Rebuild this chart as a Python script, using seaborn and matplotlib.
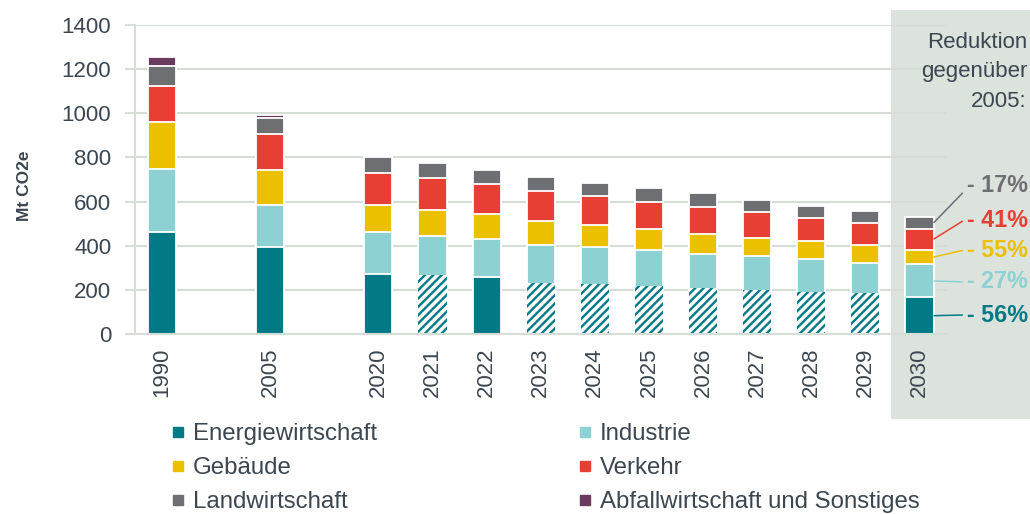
import matplotlib
matplotlib.use("Agg")
import matplotlib.pyplot as plt
import seaborn as sns
import pandas as pd
import numpy as np
from matplotlib.patches import Rectangle
from matplotlib.lines import Line2D

# ---------------- data ----------------
years = ["1990", "2005", "2020", "2021", "2022", "2023", "2024", "2025",
         "2026", "2027", "2028", "2029", "2030"]
energiewirtschaft = [463, 395, 271, 266, 257, 232, 226, 217, 208, 199, 190, 184, 166]
industrie = [286, 189, 191, 178, 172, 170, 168, 162, 153, 155, 149, 138, 149]
gebaeude = [213, 159, 124, 116, 113, 108, 98, 98, 90, 83, 81, 80, 67]
verkehr = [163, 162, 144, 146, 138, 139, 131, 122, 124, 115, 107, 101, 95]
landwirtschaft = [89, 75, 70, 69, 64, 61, 62, 63, 63, 53, 52, 52, 53]
abfall = [42, 10, 0, 0, 0, 0, 0, 0, 0, 0, 0, 0, 0]
hatched_years = ["2021", "2023", "2024", "2025", "2026", "2027", "2028", "2029"]
slot_order = ["1990", "gap1", "2005", "gap2", "2020", "2021", "2022", "2023",
              "2024", "2025", "2026", "2027", "2028", "2029", "2030"]
sector_names = ["Energiewirtschaft", "Industrie", "Gebäude", "Verkehr",
                "Landwirtschaft", "Abfallwirtschaft und Sonstiges"]
sector_colors = ["#017A86", "#8DD1D2", "#EAC000", "#E83F35", "#6E6F73", "#6B3A5F"]
reduction_labels = ["- 56%", "- 27%", "- 55%", "- 41%", "- 17%"]
panel_title = ["Reduktion", "gegenüber", "2005:"]

TXT = "#3B4650"
GRID = "#D6DDD6"
PANEL = "#DCE2DC"

sns.set_style("white")
plt.rcParams["font.family"] = ["Liberation Sans", "DejaVu Sans"]
plt.rcParams["hatch.linewidth"] = 1.7

df = pd.DataFrame({
    "year": years,
    "E": energiewirtschaft, "I": industrie, "G": gebaeude,
    "V": verkehr, "L": landwirtschaft, "A": abfall,
})
keys = ["E", "I", "G", "V", "L", "A"]
cum = df[keys].cumsum(axis=1)
for k in keys:
    df["cum_" + k] = cum[k]

fig = plt.figure(figsize=(10.3, 5.14), dpi=100)
fig.patches.append(Rectangle((891 / 1030, 1 - 419 / 514), 1 - 891 / 1030, 409 / 514,
                             transform=fig.transFigure, facecolor=PANEL,
                             edgecolor="none", zorder=-5))
ax = fig.add_axes([0.131, 0.3502, 0.788, 0.6012])
ax.set_facecolor("none")
ax.set_axisbelow(True)

bw = 0.52
lw = 1.3
# stacked bars drawn as cumulative totals, top layer first
for k, c in list(zip(keys, sector_colors))[:0:-1]:
    sub = df[df["cum_" + k] > 0]
    sns.barplot(data=sub, x="year", y="cum_" + k, order=slot_order, color=c,
                saturation=1, width=bw, edgecolor="white", linewidth=lw,
                errorbar=None, ax=ax)
solid = df[~df["year"].isin(hatched_years)]
hatch = df[df["year"].isin(hatched_years)]
sns.barplot(data=solid, x="year", y="cum_E", order=slot_order, color=sector_colors[0],
            saturation=1, width=bw, edgecolor="white", linewidth=lw,
            errorbar=None, ax=ax)
sns.barplot(data=hatch, x="year", y="cum_E", order=slot_order, color="white",
            saturation=1, width=bw, edgecolor=sector_colors[0], linewidth=0,
            hatch="////", errorbar=None, ax=ax)

# axes styling
ax.set_xlim(-0.5, len(slot_order) - 0.5)
ax.set_ylim(0, 1400)
ax.set_yticks(np.arange(0, 1401, 200))
ax.yaxis.grid(True, color=GRID, linewidth=1.5)
ax.xaxis.grid(False)
for s in ["top", "right"]:
    ax.spines[s].set_visible(False)
for s in ["left", "bottom"]:
    ax.spines[s].set_color(GRID)
    ax.spines[s].set_linewidth(1.5)
ax.set_xticks(range(len(slot_order)))
ax.set_xticklabels([s if not s.startswith("gap") else "" for s in slot_order],
                   rotation=90, fontsize=16, color=TXT)
ax.set_xticks(np.arange(-0.5, len(slot_order), 1), minor=True)
ax.tick_params(axis="x", which="major", length=0, pad=9.5)
ax.tick_params(axis="x", which="minor", length=7, width=1.5, color=GRID)
ax.tick_params(axis="y", length=7, width=1.5, color=GRID, labelsize=16,
               labelcolor=TXT, pad=10, left=True)
ax.set_xlabel("")
ax.set_ylabel("Mt CO2e", fontsize=12.5, fontweight="bold", color=TXT)
ax.yaxis.set_label_coords(-0.127, 0.48)

# reduction annotations for 2030
i30 = slot_order.index("2030")
row = df[df["year"] == "2030"].iloc[0]
bounds = [0] + [row["cum_" + k] for k in keys[:5]]
mids = [(bounds[j] + bounds[j + 1]) / 2 for j in range(5)]
text_y = [86, 236, 379, 512, 673]
line_end_y = [86, 236, 379, 512, 640]
for j in range(5):
    c = sector_colors[j]
    ax.plot([i30 + bw / 2, i30 + 0.80], [mids[j], line_end_y[j]], color=c,
            lw=1.1, clip_on=False, solid_capstyle="butt")
    ax.text(i30 + 0.88, text_y[j], reduction_labels[j], color=c, fontsize=16.8,
            fontweight="bold", ha="left", va="center", clip_on=False)

for t, ypx in zip(panel_title, [48, 77, 107]):
    fig.text(1027 / 1030, 1 - ypx / 514, t, ha="right", va="baseline",
             fontsize=16, color=TXT)

# legend (two columns as two legends)
def handle(c):
    return Line2D([], [], marker="s", linestyle="none", markersize=7.5,
                  markerfacecolor=c, markeredgecolor=c)

cols = [[0, 2, 4], [1, 3, 5]]
xs = [170 / 1030, 577 / 1030]
for col, x0 in zip(cols, xs):
    leg = fig.legend([handle(sector_colors[j]) for j in col],
                     [sector_names[j] for j in col],
                     loc="upper left", bbox_to_anchor=(x0, 1 - 423 / 514),
                     frameon=False, fontsize=17.3, handlelength=0.7,
                     handletextpad=0.25, labelspacing=0.5, borderpad=0,
                     borderaxespad=0, labelcolor=TXT)

fig.savefig("out.png", dpi=100)
